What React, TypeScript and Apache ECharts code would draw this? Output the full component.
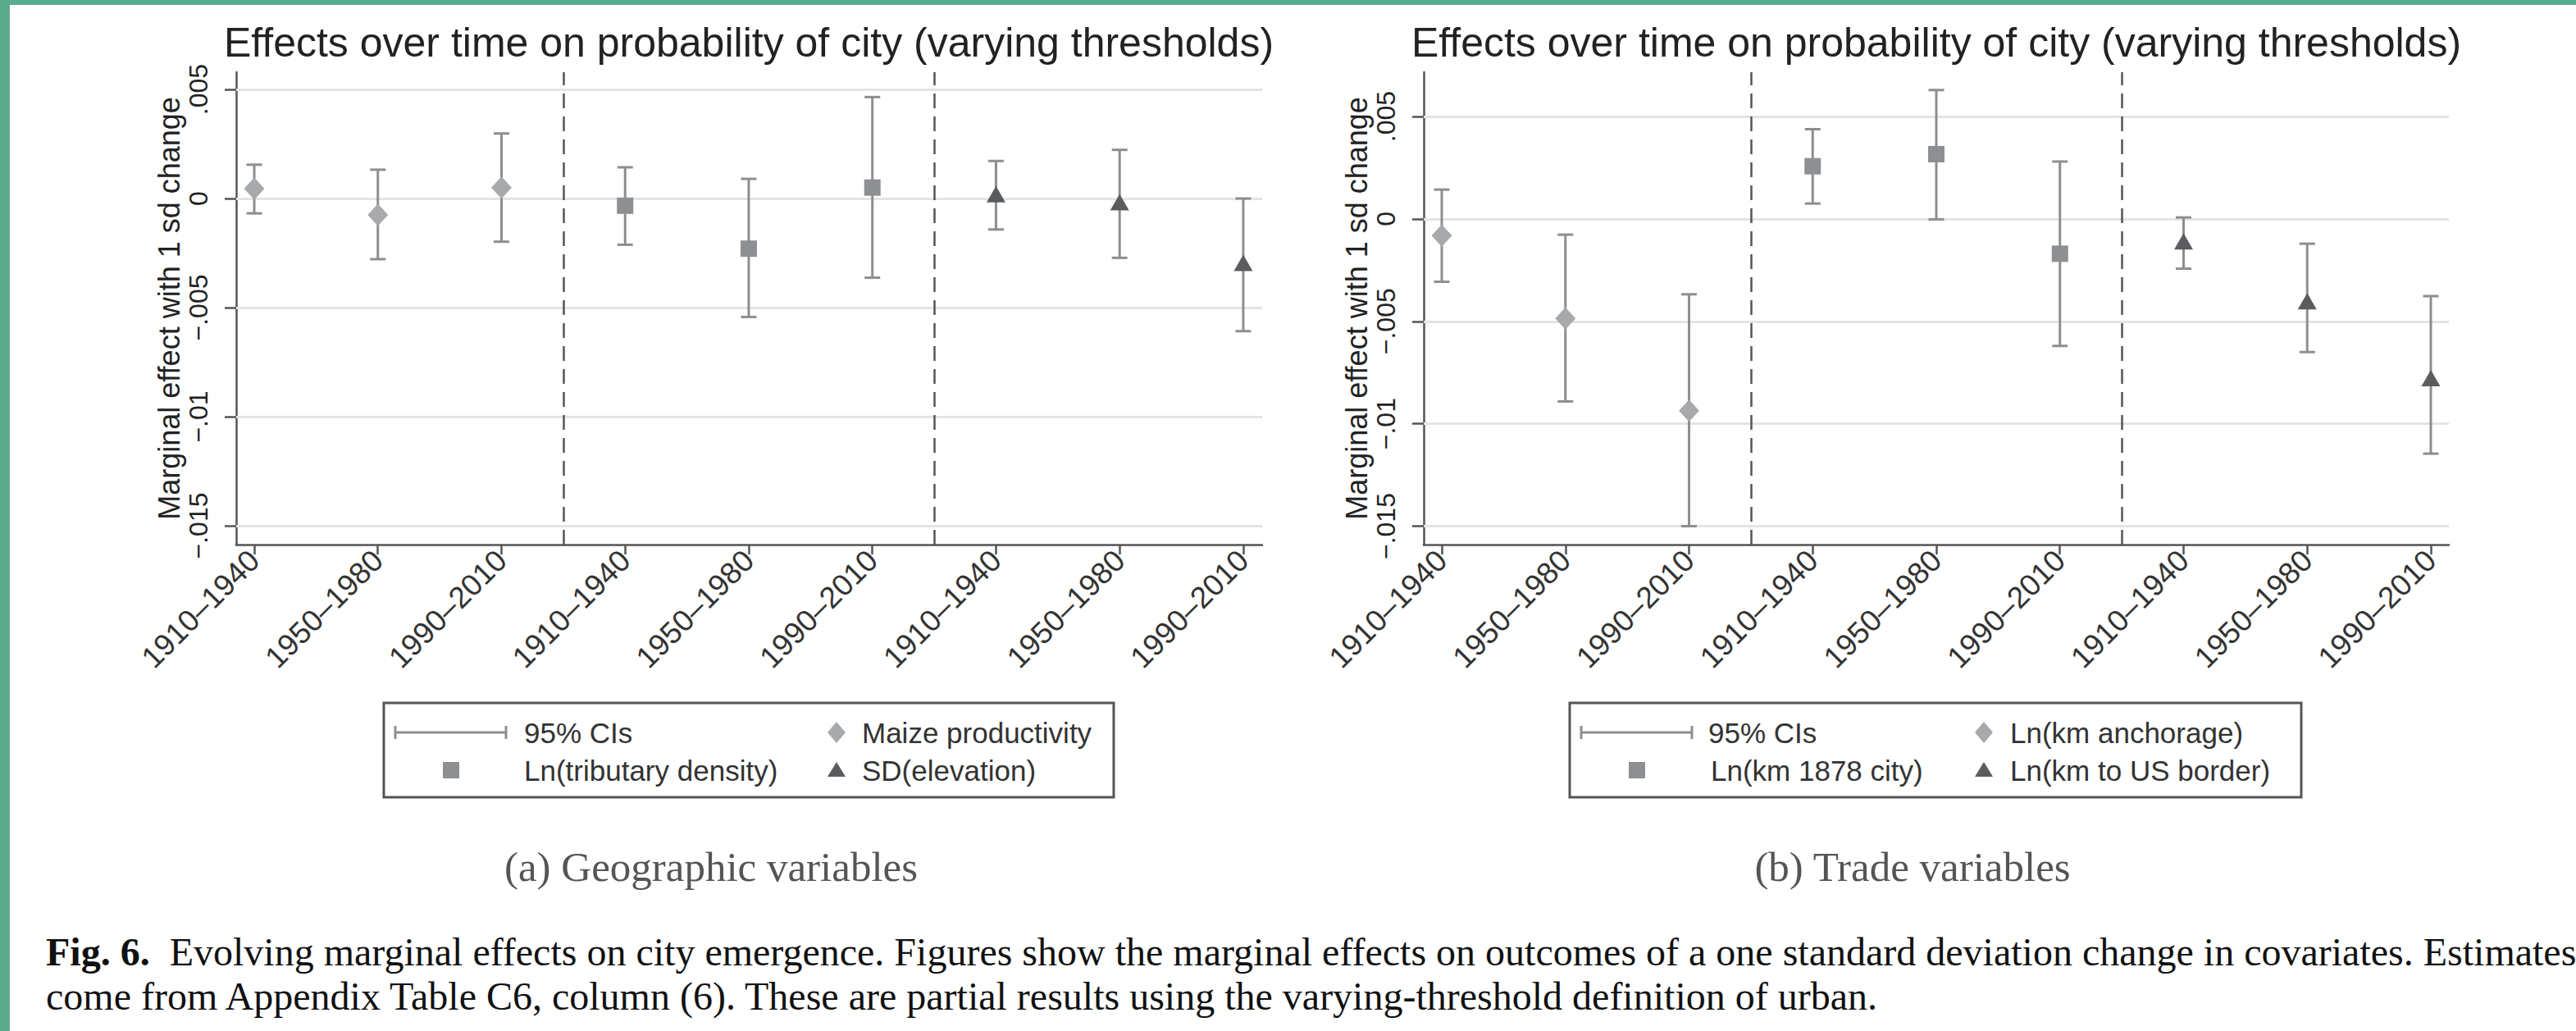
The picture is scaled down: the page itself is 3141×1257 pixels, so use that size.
import React, { useEffect, useRef } from 'react';
import * as echarts from 'echarts';

// ---------------- data ----------------
const periods = ['1910–1940', '1950–1980', '1990–2010'];
const xTickLabels = [...periods, ...periods, ...periods];
const xTickValues = [0, 1, 2, 3, 4, 5, 6, 7, 8];
const yTickValues = [0.005, 0, -0.005, -0.01, -0.015];
const yTickLabels = ['.005', '0', '−.005', '−.01', '−.015'];
const dividers = [2.5, 5.5];

const chartTitle = 'Effects over time on probability of city (varying thresholds)';
const yAxisName = 'Marginal effect with 1 sd change';
const ciLabel = '95% CIs';

// Panel (a) Geographic variables
const aNames = ['Maize productivity', 'Ln(tributary density)', 'SD(elevation)'];
const maizeEst = [0.00045, -0.00075, 0.0005];
const maizeLo = [-0.00068, -0.00278, -0.00198];
const maizeHi = [0.00155, 0.00132, 0.00298];
const tribEst = [-0.00033, -0.0023, 0.0005];
const tribLo = [-0.00212, -0.00543, -0.00363];
const tribHi = [0.00143, 0.0009, 0.00465];
const elevEst = [0.0002, -0.00017, -0.00295];
const elevLo = [-0.00142, -0.00272, -0.00608];
const elevHi = [0.00172, 0.00223, 0.0];

// Panel (b) Trade variables
const bNames = ['Ln(km anchorage)', 'Ln(km 1878 city)', 'Ln(km to US border)'];
const anchEst = [-0.00082, -0.00486, -0.00936];
const anchLo = [-0.00307, -0.00891, -0.015];
const anchHi = [0.00143, -0.00077, -0.00368];
const cityEst = [0.00257, 0.00316, -0.0017];
const cityLo = [0.00075, -0.00002, -0.0062];
const cityHi = [0.00438, 0.00629, 0.0028];
const bordEst = [-0.0011, -0.00402, -0.00777];
const bordLo = [-0.00243, -0.0065, -0.01146];
const bordHi = [0.00007, -0.00121, -0.00377];

const subCaptions = ['(a) Geographic variables', '(b) Trade variables'];
const figCaptionBold = 'Fig. 6.';
const figCaptionLine1 =
  '  Evolving marginal effects on city emergence. Figures show the marginal effects on outcomes of a one standard deviation change in covariates. Estimates';
const figCaptionLine2 =
  'come from Appendix Table C6, column (6). These are partial results using the varying-threshold definition of urban.';

// ---------------- styles / layout ----------------
const FONT = '"Liberation Sans", Arial, Helvetica, sans-serif';
const SERIF = '"Liberation Serif", "Times New Roman", serif';
const AXIS = '#555555';
const CI_COLOR = '#8d8e90';
const GRID_COLOR = '#e4e4e4';
const symbols = ['diamond', 'rect', 'triangle'];
const symbolColors = ['#a8a9ad', '#8e8f93', '#5b5c60'];
const symbolSizes: any[] = [[25, 27], [20, 20], [23, 20]];

const panels = [
  {
    names: aNames,
    groups: [
      [maizeEst, maizeLo, maizeHi],
      [tribEst, tribLo, tribHi],
      [elevEst, elevLo, elevHi],
    ],
    left: 288, width: 1251, xMin: -0.146, xMax: 8.153,
    yMin: -0.015865, yMax: 0.00579,
    titleX: 913, capX: 867,
    legend: { x: 468, w: 890, ciX0: 482, ciX1: 617, ciText: 639, sqX: 550, sqText: 639, c2X: 1020, c2Text: 1051 },
  },
  {
    names: bNames,
    groups: [
      [anchEst, anchLo, anchHi],
      [cityEst, cityLo, cityHi],
      [bordEst, bordLo, bordHi],
    ],
    left: 1736, width: 1250, xMin: -0.146, xMax: 8.146,
    yMin: -0.0159, yMax: 0.007162,
    titleX: 2361, capX: 2332,
    legend: { x: 1914, w: 892, ciX0: 1928, ciX1: 2063, ciText: 2083, sqX: 1996, sqText: 2086, c2X: 2419, c2Text: 2451 },
  },
];

const GRID_TOP = 88;
const GRID_H = 576;

function legendGraphic(p: any, names: string[]) {
  const L = p.legend;
  const top = 857;
  const h = 115;
  const r1 = 893;
  const r2 = 939;
  const txt = (x: number, y: number, s: string) => ({
    type: 'text', x, y,
    style: { text: s, font: `35px ${FONT}`, fill: '#333', textVerticalAlign: 'middle', textAlign: 'left' },
  });
  const diamond = (cx: number, cy: number) => ({
    type: 'polygon',
    shape: { points: [[cx, cy - 13], [cx + 11, cy], [cx, cy + 13], [cx - 11, cy]] },
    style: { fill: symbolColors[0] },
  });
  const square = (cx: number, cy: number) => ({
    type: 'rect', shape: { x: cx - 10, y: cy - 10, width: 20, height: 20 },
    style: { fill: symbolColors[1] },
  });
  const tri = (cx: number, cy: number) => ({
    type: 'polygon',
    shape: { points: [[cx, cy - 10], [cx + 11, cy + 8], [cx - 11, cy + 8]] },
    style: { fill: symbolColors[2] },
  });
  const ciStyle = { stroke: CI_COLOR, lineWidth: 3 };
  return [
    { type: 'rect', shape: { x: L.x, y: top, width: L.w, height: h }, style: { fill: 'none', stroke: '#555', lineWidth: 3 } },
    { type: 'line', shape: { x1: L.ciX0, y1: r1, x2: L.ciX1, y2: r1 }, style: ciStyle },
    { type: 'line', shape: { x1: L.ciX0, y1: r1 - 8, x2: L.ciX0, y2: r1 + 8 }, style: ciStyle },
    { type: 'line', shape: { x1: L.ciX1, y1: r1 - 8, x2: L.ciX1, y2: r1 + 8 }, style: ciStyle },
    txt(L.ciText, r1, ciLabel),
    diamond(L.c2X, r1),
    txt(L.c2Text, r1, names[0]),
    square(L.sqX, r2),
    txt(L.sqText, r2, names[1]),
    tri(L.c2X, r2),
    txt(L.c2Text, r2, names[2]),
  ];
}

function buildOption() {
  const series: any[] = [];
  panels.forEach((p, pi) => {
    p.groups.forEach((g, gi) => {
      const [est, lo, hi] = g;
      const ciData = est.map((_, i) => [gi * 3 + i, lo[i], hi[i]]);
      const ptData = est.map((v, i) => [gi * 3 + i, v]);
      series.push({
        type: 'custom',
        name: ciLabel,
        xAxisIndex: pi,
        yAxisIndex: pi,
        z: 2,
        silent: true,
        encode: { x: 0, y: [1, 2] },
        data: ciData,
        renderItem: (params: any, api: any) => {
          const x = api.value(0);
          const a = api.coord([x, api.value(1)]);
          const b = api.coord([x, api.value(2)]);
          const cap = 9.5;
          const st = { stroke: CI_COLOR, lineWidth: 3 };
          return {
            type: 'group',
            children: [
              { type: 'line', shape: { x1: a[0], y1: a[1], x2: b[0], y2: b[1] }, style: st },
              { type: 'line', shape: { x1: a[0] - cap, y1: a[1], x2: a[0] + cap, y2: a[1] }, style: st },
              { type: 'line', shape: { x1: b[0] - cap, y1: b[1], x2: b[0] + cap, y2: b[1] }, style: st },
            ],
          };
        },
      });
      const scatter: any = {
        type: 'scatter',
        name: p.names[gi],
        xAxisIndex: pi,
        yAxisIndex: pi,
        z: 3,
        symbol: symbols[gi],
        symbolSize: symbolSizes[gi],
        itemStyle: { color: symbolColors[gi], opacity: 1 },
        data: ptData,
      };
      if (gi === 0) {
        scatter.markLine = {
          silent: true,
          z: 1,
          precision: 10,
          symbol: ['none', 'none'],
          label: { show: false },
          emphasis: { disabled: true },
          data: [
            ...yTickValues.map((v) => ({ yAxis: v, lineStyle: { color: GRID_COLOR, width: 3, type: 'solid' } })),
            ...dividers.map((v) => ({ xAxis: v, lineStyle: { color: '#555', width: 2.5, type: [18, 10] } })),
          ],
        };
      }
      series.push(scatter);
    });
  });

  const graphic: any[] = [
    { type: 'rect', shape: { x: 0, y: 0, width: 12, height: 1257 }, style: { fill: '#5aab8d' } },
    { type: 'rect', shape: { x: 0, y: 0, width: 3141, height: 6 }, style: { fill: '#5aab8d' } },
  ];
  panels.forEach((p, pi) => {
    graphic.push({
      type: 'text', x: p.titleX, y: 52,
      style: { text: chartTitle, font: `50px ${FONT}`, fill: '#222', textAlign: 'center', textVerticalAlign: 'middle' },
    });
    graphic.push({
      type: 'text', x: p.capX, y: 1057,
      style: { text: subCaptions[pi], font: `51px ${SERIF}`, fill: '#555', textAlign: 'center', textVerticalAlign: 'middle' },
    });
    graphic.push(...legendGraphic(p, p.names));
  });
  graphic.push({
    type: 'text', x: 56, y: 1133,
    style: {
      text: `{b|${figCaptionBold}}{r|${figCaptionLine1}}\n{r|${figCaptionLine2}}`,
      font: `48px ${SERIF}`,
      fill: '#111',
      textAlign: 'left',
      textVerticalAlign: 'top',
      lineHeight: 54,
      rich: {
        b: { fontFamily: SERIF, fontSize: 48, fontWeight: 'bold', fill: '#111', lineHeight: 54 },
        r: { fontFamily: SERIF, fontSize: 48, fill: '#111', lineHeight: 54 },
      },
    },
  });

  return {
    animation: false,
    backgroundColor: '#ffffff',
    textStyle: { fontFamily: FONT },
    grid: panels.map((p) => ({
      left: p.left, top: GRID_TOP, width: p.width, height: GRID_H,
      containLabel: false, outerBoundsMode: 'none',
    })),
    xAxis: panels.map((p, pi) => ({
      type: 'value', gridIndex: pi, min: p.xMin, max: p.xMax,
      splitLine: { show: false },
      axisLine: { show: true, onZero: false, lineStyle: { color: AXIS, width: 2.5 } },
      axisTick: { show: true, length: 12, customValues: xTickValues, lineStyle: { color: AXIS, width: 2.5 } },
      axisLabel: {
        show: true, customValues: xTickValues, rotate: 45, margin: 13,
        fontSize: 37, color: '#333', fontFamily: FONT,
        formatter: (v: number) => xTickLabels[Math.round(v)] ?? '',
      },
    })),
    yAxis: panels.map((p, pi) => ({
      type: 'value', gridIndex: pi, min: p.yMin, max: p.yMax,
      name: yAxisName, nameLocation: 'middle', nameGap: 64, nameRotate: 90,
      nameMoveOverlap: false,
      nameTextStyle: { fontSize: 36, color: '#222', fontFamily: FONT },
      splitLine: { show: false },
      axisLine: { show: true, onZero: false, lineStyle: { color: AXIS, width: 2.5 } },
      axisTick: { show: true, length: 14, customValues: yTickValues, lineStyle: { color: AXIS, width: 2.5 } },
      axisLabel: {
        show: true, customValues: yTickValues, rotate: 90, margin: 30,
        fontSize: 32, color: '#222', fontFamily: FONT,
        formatter: (v: number) => {
          let best = 0;
          yTickValues.forEach((t, i) => {
            if (Math.abs(t - v) < Math.abs(yTickValues[best] - v)) best = i;
          });
          return yTickLabels[best];
        },
      },
    })),
    series,
    graphic,
  };
}

export default function App() {
  const ref = useRef<HTMLDivElement>(null);
  useEffect(() => {
    document.body.style.margin = '0';
    if (!ref.current) return;
    const chart = echarts.init(ref.current, undefined, { renderer: 'svg', width: 3141, height: 1257 });
    chart.setOption(buildOption() as any);
    return () => chart.dispose();
  }, []);
  return (
    <div
      ref={ref}
      style={{ position: 'absolute', left: 0, top: 0, width: '3141px', height: '1257px', background: '#fff' }}
    />
  );
}
